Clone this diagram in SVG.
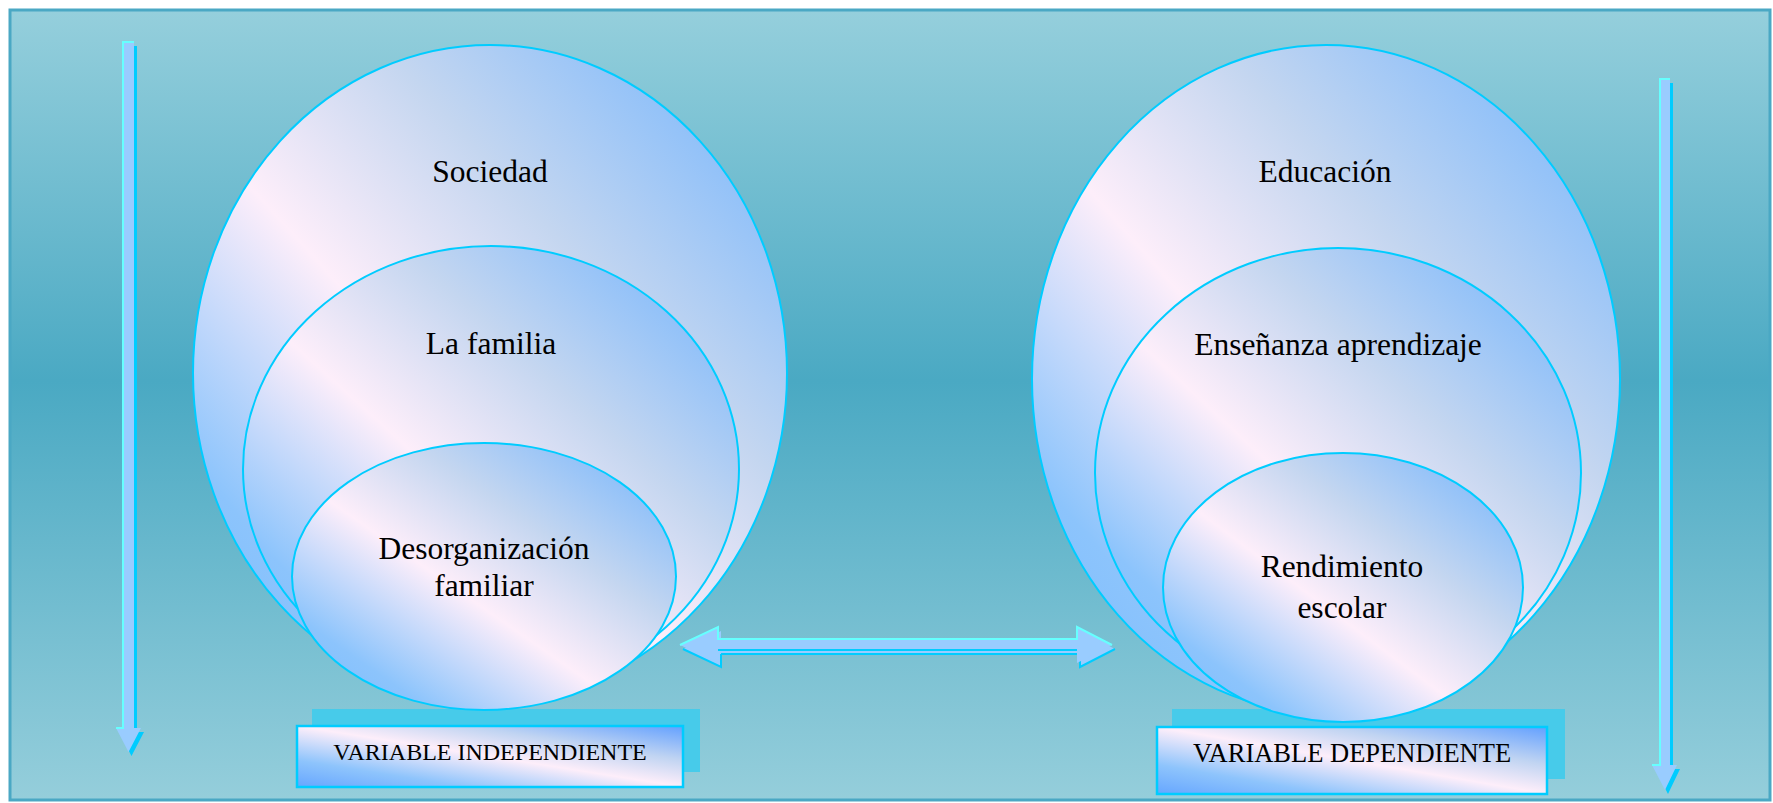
<svg xmlns="http://www.w3.org/2000/svg" width="1773" height="803" viewBox="0 0 1773 803">
<defs>
<linearGradient id="bg" x1="0" y1="0" x2="0" y2="1">
<stop offset="0" stop-color="#95cfdc"/>
<stop offset="0.47" stop-color="#4aa9c3"/>
<stop offset="1" stop-color="#95cedb"/>
</linearGradient>
<linearGradient id="ell" x1="0" y1="1" x2="1" y2="0">
<stop offset="0" stop-color="#78baff"/>
<stop offset="0.18" stop-color="#8cc4fc"/>
<stop offset="0.44" stop-color="#fdeefa"/>
<stop offset="0.66" stop-color="#c4d6f0"/>
<stop offset="1" stop-color="#6cb2ff"/>
</linearGradient>
<linearGradient id="box" x1="0" y1="1" x2="1" y2="0">
<stop offset="0" stop-color="#66a6ff"/>
<stop offset="0.22" stop-color="#8ec4fc"/>
<stop offset="0.5" stop-color="#fdeefa"/>
<stop offset="0.72" stop-color="#c0d4f2"/>
<stop offset="1" stop-color="#62a0ff"/>
</linearGradient>
<style>
.e{fill:url(#ell);stroke:#00ccff;stroke-width:2}
.t{font-family:"Liberation Serif","Times New Roman",serif;font-size:31.5px;fill:#000;text-anchor:middle}
.lt{font-family:"Liberation Serif","Times New Roman",serif;fill:#000;text-anchor:middle}
.sh{fill:#47cbea}
.bx{fill:url(#box);stroke:#00ccff;stroke-width:2.5}
.am{fill:#99ccff}
.as{fill:#00ccff}
.hl{fill:none;stroke:#66ffff;stroke-width:2;stroke-linejoin:miter}
.dk{fill:none;stroke:#00ccff;stroke-width:2}
</style>
</defs>
<rect x="10" y="10" width="1760" height="790" fill="url(#bg)" stroke="#4aa8c4" stroke-width="3"/>

<g id="arrow-left">
<polygon class="as" points="126,46 137,46 137,732 144,732 131.5,756 119,732 126,732"/>
<polygon class="am" points="123,42 134,42 134,728 141,728 128.5,752 116,728 123,728"/>
<polyline class="hl" points="116,728 123,728 123,42 134,42"/>
</g>
<g id="arrow-right">
<polygon class="as" points="1663,83 1673,83 1673,769 1680,769 1668,794 1655,769 1663,769"/>
<polygon class="am" points="1660,79 1670,79 1670,765 1677,765 1665,790 1652,765 1660,765"/>
<polyline class="hl" points="1652,765 1660,765 1660,79 1670,79"/>
</g>

<g id="variable-independiente">
<rect class="sh" x="312" y="709" width="388" height="63"/>
<rect class="bx" x="297" y="726" width="386" height="61"/>
<text class="lt" x="490" y="760" font-size="24">VARIABLE INDEPENDIENTE</text>
</g>
<g id="variable-dependiente">
<rect class="sh" x="1172" y="709" width="393" height="70"/>
<rect class="bx" x="1157" y="727" width="390" height="67"/>
<text class="lt" x="1352" y="762" font-size="26.5">VARIABLE DEPENDIENTE</text>
</g>

<g id="sociedad">
<ellipse class="e" cx="490" cy="373" rx="297" ry="328"/>
<text class="t" x="490" y="182">Sociedad</text>
</g>
<g id="familia">
<ellipse class="e" cx="491" cy="469" rx="248" ry="223"/>
<text class="t" x="491" y="354">La familia</text>
</g>
<g id="desorganizacion">
<ellipse class="e" cx="484" cy="576.5" rx="192" ry="133.5"/>
<text class="t" x="484" y="559">Desorganización</text>
<text class="t" x="484" y="596">familiar</text>
</g>

<g id="educacion">
<ellipse class="e" cx="1326" cy="379" rx="294" ry="334"/>
<text class="t" x="1325" y="182">Educación</text>
</g>
<g id="ensenanza">
<ellipse class="e" cx="1338" cy="473" rx="243" ry="225"/>
<text class="t" x="1338" y="355">Enseñanza aprendizaje</text>
</g>
<g id="rendimiento">
<ellipse class="e" cx="1343" cy="587.5" rx="180" ry="134.5"/>
<text class="t" x="1342" y="577">Rendimiento</text>
<text class="t" x="1342" y="618">escolar</text>
</g>

<g id="connectors">
<polygon class="am" points="683,649 721,631 721,643 1080,643 1080,631 1115,649 1080,667 1080,654 721,654 721,667" />
<polyline class="dk" points="721,654 1080,654 1080,667 1115,649"/>
<polyline class="dk" points="683,649 721,667 721,654"/>
<polygon class="am" points="680,645 718,627 718,639 1077,639 1077,627 1112,645 1077,663 1077,650 718,650 718,663"/>
<polyline class="hl" points="680,645 718,627 718,639 1077,639 1077,627 1112,645"/>
<polyline class="dk" points="718,650 1077,650"/>
</g>
</svg>
